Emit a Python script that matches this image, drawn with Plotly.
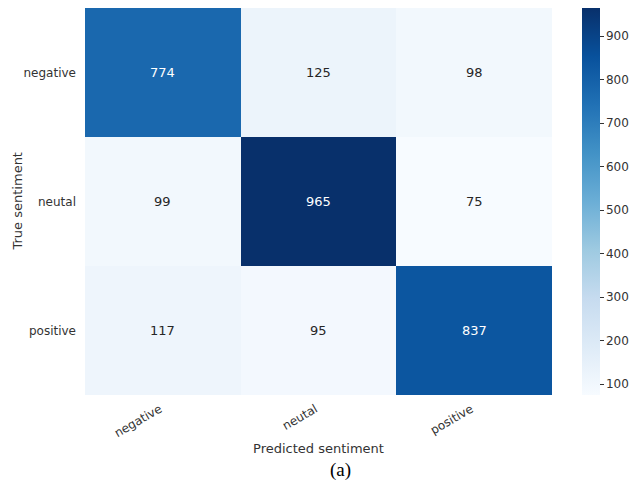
import plotly.graph_objects as go
import plotly.colors as pc

# Confusion matrix of the sentiment classifier
labels_pred = ["negative", "neutal", "positive"]
labels_true = ["negative", "neutal", "positive"]
counts = [
    [774, 125, 98],
    [99, 965, 75],
    [117, 95, 837],
]
colorbar_ticks = [100, 200, 300, 400, 500, 600, 700, 800, 900]

zmin = min(min(r) for r in counts)
zmax = max(max(r) for r in counts)

blues = pc.sequential.Blues
scale = [[i / (len(blues) - 1), c] for i, c in enumerate(blues)]

W, H = 632, 487
ML, MR, MT, MB = 85, 0, 8, 92
plot_w = W - ML - MR
plot_h = H - MT - MB
heat_w = 467

fig = go.Figure(
    go.Heatmap(
        z=counts,
        x=labels_pred,
        y=labels_true,
        zmin=zmin,
        zmax=zmax,
        colorscale=scale,
        showscale=True,
        colorbar=dict(
            thickness=18,
            len=1.0,
            lenmode="fraction",
            y=0.5,
            yanchor="middle",
            x=(582 - ML) / plot_w,
            xanchor="left",
            xpad=0,
            ypad=0,
            outlinewidth=0,
            tickvals=colorbar_ticks,
            ticks="outside",
            ticklen=4,
            tickcolor="#333333",
            tickfont=dict(family="DejaVu Sans", size=12, color="#333333"),
        ),
        hoverinfo="skip",
    )
)

# Cell annotations, light text on dark cells
mid = zmin + (zmax - zmin) * 0.5
for i, row_label in enumerate(labels_true):
    for j, col_label in enumerate(labels_pred):
        v = counts[i][j]
        fig.add_annotation(
            x=col_label,
            y=row_label,
            text=str(v),
            showarrow=False,
            font=dict(family="DejaVu Sans", size=13,
                      color="white" if v > mid else "#262626"),
        )

# Y axis title
fig.add_annotation(
    x=(17 - ML) / plot_w, y=0.5, xref="paper", yref="paper",
    xanchor="center", yanchor="middle", textangle=-90,
    text="True sentiment", showarrow=False,
    font=dict(family="DejaVu Sans", size=13, color="#333333"),
)

# Subfigure caption
fig.add_annotation(
    x=(340 - ML) / plot_w, y=-(470 - 395) / plot_h, xref="paper", yref="paper",
    xanchor="center", yanchor="middle",
    text="(a)", showarrow=False,
    font=dict(family="Liberation Serif", size=19, color="black"),
)

fig.update_layout(
    width=W,
    height=H,
    margin=dict(l=ML, r=MR, t=MT, b=MB, autoexpand=False),
    paper_bgcolor="white",
    plot_bgcolor="white",
    font=dict(family="DejaVu Sans", color="#333333"),
    xaxis=dict(
        domain=[0, heat_w / plot_w],
        title=dict(text="Predicted sentiment", font=dict(size=13), standoff=4),
        tickangle=-30,
        tickfont=dict(size=12, color="#333333"),
        showgrid=False,
        zeroline=False,
        ticks="",
        ticklabelstandoff=4,
        ticklabelshift=-3,
        automargin=False,
    ),
    yaxis=dict(
        autorange="reversed",
        tickfont=dict(size=12, color="#333333"),
        showgrid=False,
        zeroline=False,
        ticks="",
        ticklabelstandoff=8,
        automargin=False,
    ),
)

fig.write_html("out.html")
